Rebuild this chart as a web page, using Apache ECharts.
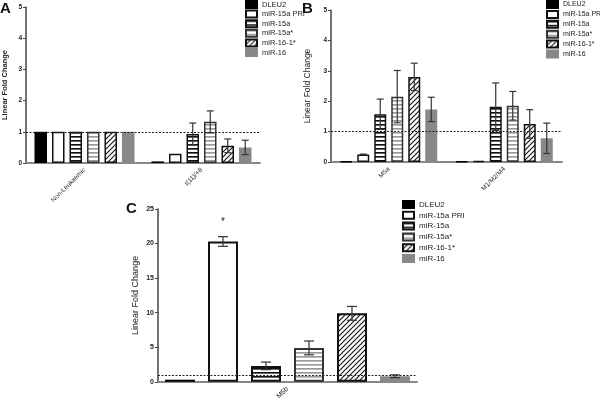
<!DOCTYPE html>
<html><head><meta charset="utf-8">
<script src="https://cdn.jsdelivr.net/npm/echarts@6/dist/echarts.min.js"></script>
<style>html,body{margin:0;padding:0;background:#fff}#c{width:600px;height:402px}</style>
</head><body><div id="c"></div>
<script>
// ---- data ----
const seriesNames = ['DLEU2','miR-15a PRI','miR-15a','miR-15a*','miR-16-1*','miR-16'];
const categoriesA = ['Non-Leukaemic','t(11)/+8'];
const valuesA = [[1,0.05],[1,0.3],[1,0.93],[1,1.32],[1,0.55],[1,0.5]];
const errorsA = [[0,0],[0,0],[0,0.35],[0,0.35],[0,0.22],[0,0.23]];
const categoriesB = ['M5a','M1/M2/M4'];
const valuesB = [[0.02,0.02],[0.25,0.04],[1.57,1.82],[2.15,1.85],[2.8,1.25],[1.73,0.78]];
const errorsB = [[0,0],[0.01,0],[0.5,0.78],[0.86,0.47],[0.45,0.47],[0.4,0.5]];
const categoriesC = ['M5b'];
const valuesC = [[0.3],[20.3],[2.3],[4.9],[9.9],[0.8]];
const errorsC = [[0],[0.7],[0.55],[1.0],[1.0],[0.2]];
const starsC = ['','*','','','',''];
const yMaxAB = 5, yStepAB = 1;
const yMaxC = 25, yStepC = 5;
const referenceLevel = 1;
const panelLetters = ['A','B','C'];
const yAxisTitle = 'Linear Fold Change';

// ---- patterns ----
function pat(w,h,draw){const c=document.createElement('canvas');c.width=w;c.height=h;const g=c.getContext('2d');g.fillStyle='#fff';g.fillRect(0,0,w,h);draw(g);return {image:c,repeat:'repeat'};}
const hBlack = pat(4,4,g=>{g.fillStyle='#111';g.fillRect(0,0,4,1);g.fillStyle='#666';g.fillRect(0,1,4,1);});
const hGray = pat(4,4,g=>{g.fillStyle='#999';g.fillRect(0,0,4,1);g.fillStyle='#bbb';g.fillRect(0,1,4,1);});
const diag = pat(5,5,g=>{g.strokeStyle='#111';g.lineWidth=1.1;g.beginPath();g.moveTo(0,5);g.lineTo(5,0);g.moveTo(-1,1);g.lineTo(1,-1);g.moveTo(4,6);g.lineTo(6,4);g.stroke();});
const styles = [
  {color:'#000',borderColor:'#000'},
  {color:'#fff',borderColor:'#111'},
  {color:hBlack,borderColor:'#111'},
  {color:hGray,borderColor:'#333'},
  {color:diag,borderColor:'#111'},
  {color:'#888',borderColor:'#888'}
];

const panels = [
  {cats:categoriesA, vals:valuesA, errs:errorsA, max:yMaxAB, step:yStepAB, grid:{left:26,top:7,width:234,height:156}, barW:12.5, gap:5, bw:1.5, cap:3.5, nameGap:17, nameSize:7.5, nameWeight:'bold', tickSize:6.5, catSize:6.5},
  {cats:categoriesB, vals:valuesB, errs:errorsB, max:yMaxAB, step:yStepAB, grid:{left:331,top:10,width:231,height:152}, barW:12, gap:5, bw:1.5, cap:3.5, nameGap:19, nameSize:8.5, nameWeight:'normal', tickSize:6.5, catSize:6.5},
  {cats:categoriesC, vals:valuesC, errs:errorsC, max:yMaxC, step:yStepC, grid:{left:158,top:209,width:259,height:173}, barW:30, gap:13, bw:2, cap:5, nameGap:18, nameSize:9, nameWeight:'normal', tickSize:7, catSize:7, stars:starsC}
];

const grids=[], xAxes=[], yAxes=[], series=[], legends=[], graphics=[];
const legendPos = [{left:245,top:0,gap:0.6,size:7.5},{left:546,top:0,gap:0.9,size:7},{left:402,top:200,gap:1.8,size:8}];
panels.forEach((p,k)=>{
  grids.push(p.grid);
  xAxes.push({type:'category',gridIndex:k,data:p.cats,
    axisLine:{lineStyle:{color:'#888',width:2}},
    axisTick:{alignWithLabel:true,length:3,lineStyle:{color:'#444'}},
    axisLabel:{rotate:45,fontSize:p.catSize,color:'#222',margin:6,fontFamily:'Liberation Sans'}});
  yAxes.push({type:'value',gridIndex:k,min:0,max:p.max,interval:p.step,
    name:yAxisTitle,nameLocation:'middle',nameGap:p.nameGap,
    nameTextStyle:{fontSize:p.nameSize,fontWeight:p.nameWeight,color:'#222',fontFamily:'Liberation Sans'},
    axisLine:{show:true,lineStyle:{color:'#444',width:1.5}},
    axisTick:{show:true,length:3,lineStyle:{color:'#444'}},
    splitLine:{show:false},
    axisLabel:{fontSize:p.tickSize,fontWeight:'bold',color:'#222',margin:4,fontFamily:'Liberation Sans'}});
  const n = seriesNames.length;
  const total = n*p.barW + (n-1)*p.gap;
  seriesNames.forEach((nm,i)=>{
    const s = {type:'bar',name:nm,xAxisIndex:k,yAxisIndex:k,data:p.vals[i],
      barWidth:p.barW,barGap:(p.gap/p.barW*100)+'%',
      itemStyle:Object.assign({borderWidth:p.bw},styles[i]),
      emphasis:{disabled:true},z:2};
    if(p.stars){
      s.label={show:true,position:'top',distance:14,fontSize:10,color:'#222',
        formatter:()=>p.stars[i]};
    }
    if(i===0){
      s.markLine={silent:true,symbol:'none',data:[{yAxis:referenceLevel}],
        lineStyle:{type:[2,1.5],color:'#222',width:1},label:{show:false},z:6};
    }
    series.push(s);
  });
  const ebData=[];
  p.vals.forEach((arr,i)=>arr.forEach((v,j)=>{ if(p.errs[i][j]>0) ebData.push([j,v,p.errs[i][j],i]); }));
  series.push({type:'custom',xAxisIndex:k,yAxisIndex:k,data:ebData,z:5,silent:true,
    encode:{x:0,y:1},
    renderItem:(params,api)=>{
      const j=api.value(0),v=api.value(1),e=api.value(2),i=api.value(3);
      const off=-total/2+p.barW/2+i*(p.barW+p.gap);
      const x=api.coord([j,v])[0]+off;
      const y1=api.coord([j,v+e])[1], y2=api.coord([j,v-e])[1];
      const st={stroke:'#333',lineWidth:1.2};
      return {type:'group',children:[
        {type:'line',shape:{x1:x,y1:y1,x2:x,y2:y2},style:st},
        {type:'line',shape:{x1:x-p.cap,y1:y1,x2:x+p.cap,y2:y1},style:st},
        {type:'line',shape:{x1:x-p.cap,y1:y2,x2:x+p.cap,y2:y2},style:st}]};
    }});
  const L = legendPos[k];
  legends.push({orient:'vertical',left:L.left,top:L.top,padding:0,itemWidth:11,itemHeight:7,itemGap:L.gap,
    icon:'rect',selectedMode:false,data:seriesNames,
    textStyle:{fontSize:L.size,color:'#222',fontFamily:'Liberation Sans'}});
});
const letterPos=[[0,1],[302,1],[126,201]];
panelLetters.forEach((t,k)=>graphics.push({type:'text',left:letterPos[k][0],top:letterPos[k][1],
  style:{text:t,fontSize:15,fontWeight:'bold',fill:'#111',fontFamily:'Liberation Sans'}}));

const chart = echarts.init(document.getElementById('c'),null,{renderer:'canvas'});
chart.setOption({backgroundColor:'#fff',animation:false,grid:grids,xAxis:xAxes,yAxis:yAxes,
  series:series,legend:legends,graphic:graphics});
</script></body></html>
